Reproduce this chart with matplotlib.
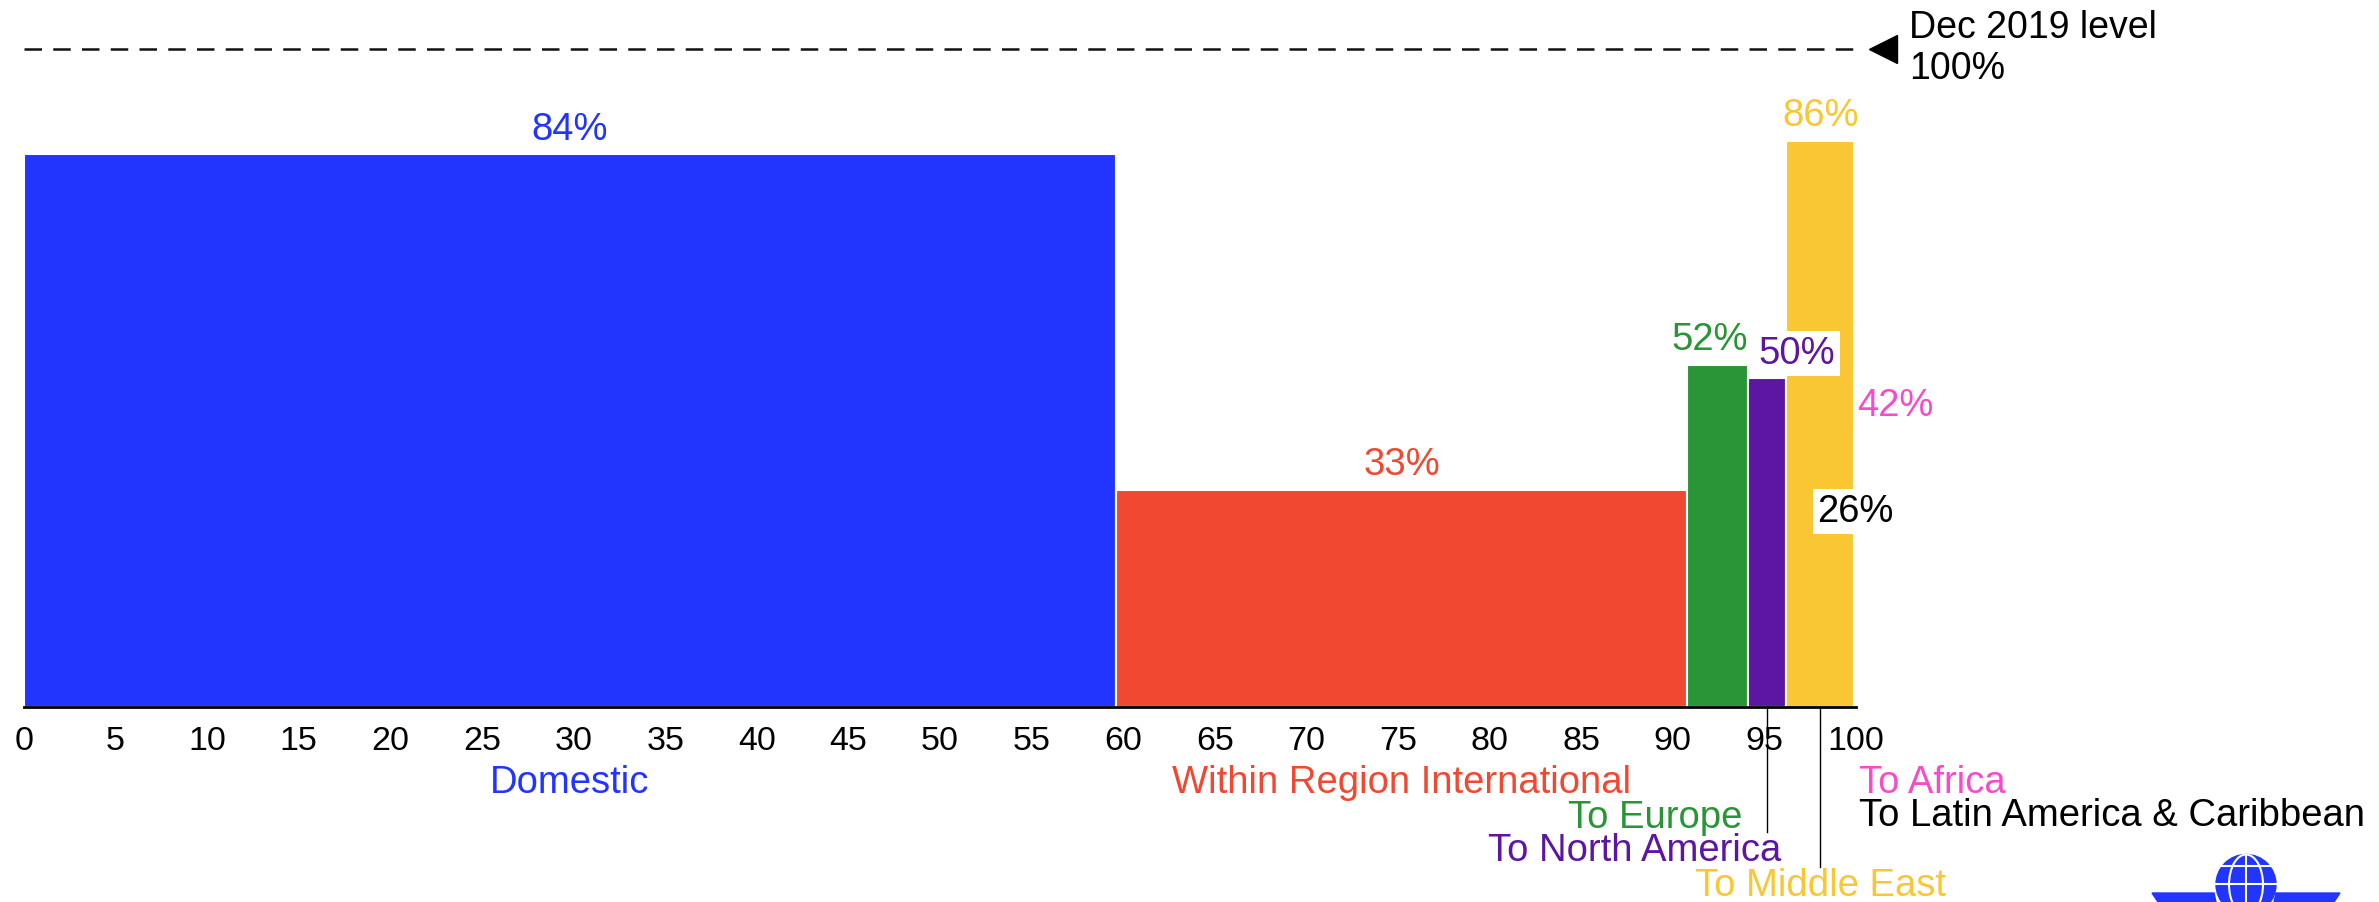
import numpy as np
import matplotlib
matplotlib.use('Agg')
import matplotlib.pyplot as plt
from matplotlib.patches import Circle, Ellipse, Polygon

plt.rcParams['font.family'] = ['Liberation Sans', 'DejaVu Sans']

# data
categories = ['Domestic', 'Within Region International', 'To Europe', 'To North America',
              'To Middle East', 'To Africa', 'To Latin America & Caribbean']
share = [59.6, 31.2, 3.3, 2.1, 3.7, 0.05, 0.05]      # x width, % of seats
level = [84, 33, 52, 50, 86, 42, 26]                 # % of Dec 2019 level
colors = ['#2135FF', '#F04932', '#299536', '#5C16A1', '#F9C733', '#F64CC9', '#000000']
xticks = list(range(0, 101, 5))

left = np.concatenate([[0], np.cumsum(share)[:-1]])
mid = left + np.array(share) / 2

fig = plt.figure(figsize=(23.79, 9.02), dpi=100)
ax = fig.add_axes([24 / 2379, 195 / 902, 1832 / 2379, 658.5 / 902])

ax.bar(left, level, width=share, align='edge', color=colors, edgecolor='white', linewidth=1.5)

ax.set_xlim(0, 100)
ax.set_ylim(0, 100)
for s in ['top', 'right', 'left']:
    ax.spines[s].set_visible(False)
ax.spines['bottom'].set_linewidth(2)
ax.set_yticks([])
ax.set_xticks(xticks)
ax.set_xticklabels([str(t) for t in xticks], fontsize=24.5)
ax.tick_params(axis='x', length=0, pad=14)

# value labels  (dx in px, style)
lab_dx = [0, 0, -8, 30, 0, 2, 0]
lab_ha = ['center', 'center', 'center', 'center', 'center', 'left', 'center']
boxed = [False, False, False, True, False, False, True]
for i in range(len(categories)):
    x = mid[i] if lab_ha[i] == 'center' else left[i] + share[i]
    kw = {}
    if boxed[i]:
        kw['bbox'] = dict(facecolor='white', edgecolor='none', pad=3)
    ax.annotate(f'{level[i]}%', (x, level[i]), xytext=(lab_dx[i] * 0.72, 4.5),
                textcoords='offset points', ha=lab_ha[i], va='bottom',
                color=colors[i], fontsize=27.5, annotation_clip=False, **kw)

# category labels under the axis
def py(p):
    return (707 - p) / 6.585

ax.text(mid[0], py(783), categories[0], color=colors[0], fontsize=27.5, ha='center', va='center')
ax.text(mid[1], py(783), categories[1], color=colors[1], fontsize=27.5, ha='center', va='center')
ax.text(left[2] + share[2] - 0.3, py(818), categories[2], color=colors[2], fontsize=27.5, ha='right', va='center')
ax.text(left[3] + share[3] - 0.3, py(851), categories[3], color=colors[3], fontsize=27.5, ha='right', va='center')
ax.text(mid[4], py(886), categories[4], color=colors[4], fontsize=27.5, ha='center', va='center')
ax.text(100.15, py(783), categories[5], color=colors[5], fontsize=27.5, ha='left', va='center')
ax.text(100.15, py(816), categories[6], color=colors[6], fontsize=27.5, ha='left', va='center')

ax.plot([mid[3], mid[3]], [0, py(832)], color='black', lw=1, clip_on=False)
ax.plot([mid[4], mid[4]], [0, py(867)], color='black', lw=1, clip_on=False)

# Dec 2019 reference line
ax.plot([0, 100], [100, 100], color='#111111', lw=1.8, linestyle=(0, (7, 4.5)), clip_on=False)
ax.plot([101.5], [100], marker='<', color='black', markersize=20, clip_on=False)
ax.text(102.9, 100, 'Dec 2019 level\n100%', fontsize=27, ha='left', va='center', linespacing=1.18)

# logo (rough IATA globe)
lax = fig.add_axes([2140 / 2379, 0, 210 / 2379, 62 / 902])
lax.set_xlim(2140, 2350)
lax.set_ylim(902, 840)
lax.set_aspect('auto')
lax.axis('off')
blue = '#2135FF'
lax.add_patch(Polygon([[2152, 893], [2214, 893], [2216, 902], [2158, 902]], color=blue))
lax.add_patch(Polygon([[2276, 893], [2340, 893], [2334, 902], [2274, 902]], color=blue))
lax.add_patch(Circle((2246, 884.5), 30, color=blue))
lax.add_patch(Ellipse((2246, 884.5), 34, 60, fill=False, edgecolor='white', lw=1.5))
lax.plot([2246, 2246], [855, 902], color='white', lw=1.5)
for yy in [866, 884.5]:
    half = np.sqrt(30 ** 2 - (yy - 884.5) ** 2)
    lax.plot([2246 - half, 2246 + half], [yy, yy], color='white', lw=1.5)

fig.savefig('out.png', dpi=100)
